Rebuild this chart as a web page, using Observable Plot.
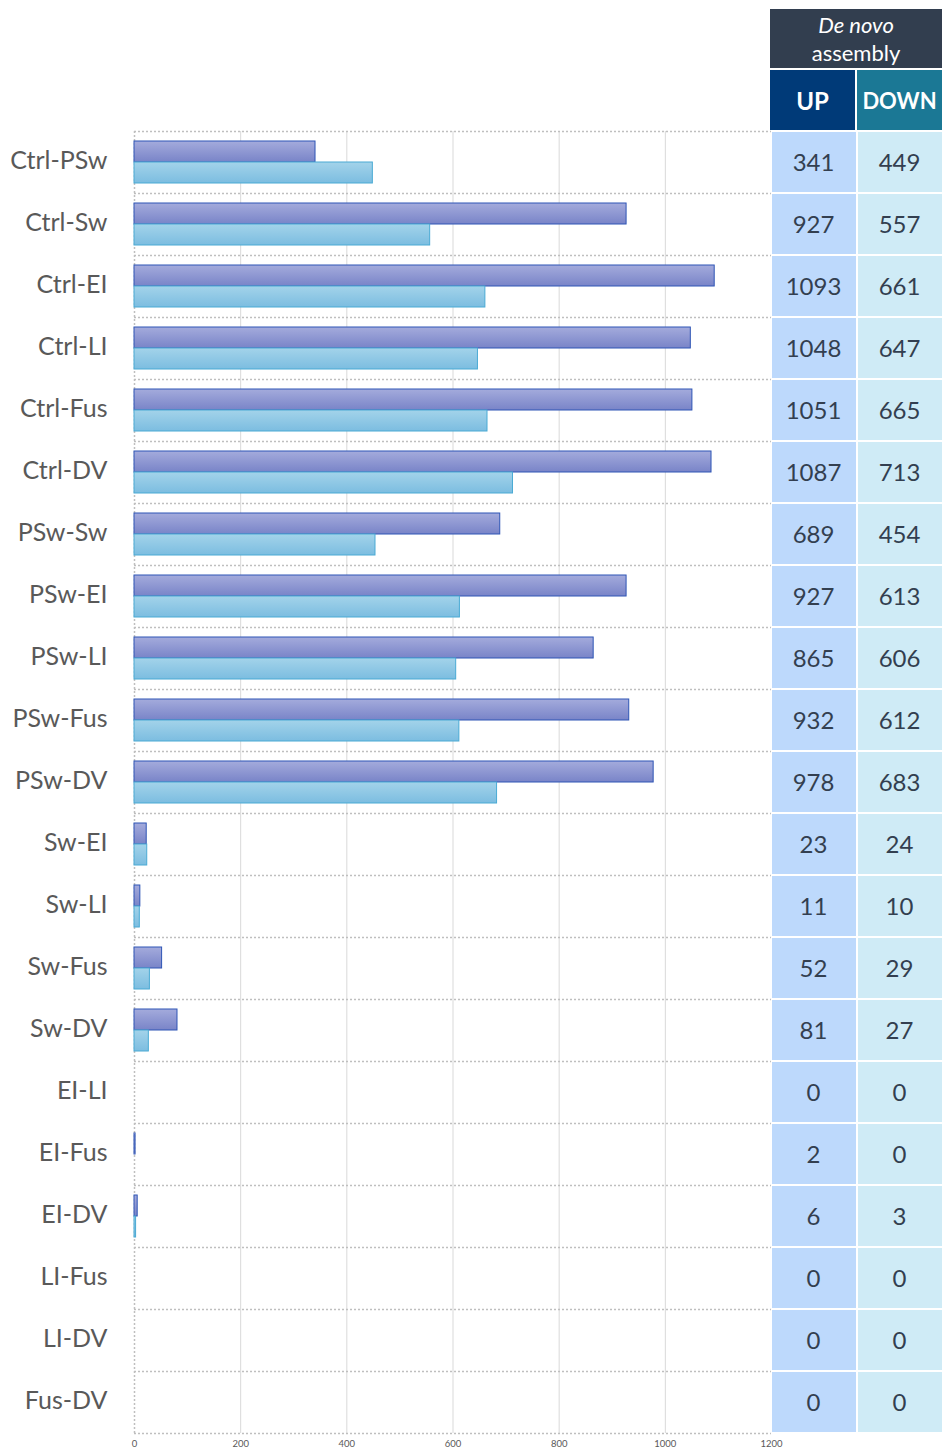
<!DOCTYPE html>
<html>
<head>
<meta charset="utf-8">
<script src="https://cdn.jsdelivr.net/npm/d3@7"></script>
<script src="https://cdn.jsdelivr.net/npm/@observablehq/plot@0.6"></script>
<style>
  body { margin: 0; background: #fff; font-family: Lato, "Open Sans", sans-serif; }
  #wrap { position: relative; width: 943px; height: 1450px; }
  #wrap > div { position: absolute; }
  .hdr { color: #fff; display: flex; align-items: center; justify-content: center; text-align: center; }
</style>
</head>
<body>
<div id="wrap">
  <div id="chart" style="left:0;top:0"></div>
  <div id="table" style="left:770px;top:0"></div>
  <div class="hdr" style="left:770px;top:9px;width:172px;height:59px;background:#323e4f;font-size:22px;line-height:28px;">
    <span><i>De novo</i><br>assembly</span>
  </div>
  <div class="hdr" style="left:770px;top:70px;width:85px;height:60px;background:#003a78;font-size:24px;font-weight:bold;">UP</div>
  <div class="hdr" style="left:857px;top:70px;width:85px;height:60px;background:#1b7895;font-size:22px;font-weight:bold;">DOWN</div>
</div>
<script>
const categories = ["Ctrl-PSw","Ctrl-Sw","Ctrl-EI","Ctrl-LI","Ctrl-Fus","Ctrl-DV","PSw-Sw","PSw-EI","PSw-LI","PSw-Fus","PSw-DV","Sw-EI","Sw-LI","Sw-Fus","Sw-DV","EI-LI","EI-Fus","EI-DV","LI-Fus","LI-DV","Fus-DV"];
const up   = [341,927,1093,1048,1051,1087,689,927,865,932,978,23,11,52,81,0,2,6,0,0,0];
const down = [449,557,661,647,665,713,454,613,606,612,683,24,10,29,27,0,0,3,0,0,0];
const xTicks = [0,200,400,600,800,1000,1200];
const columns = ["UP","DOWN"];

const upData = categories.map((c,i)=>({cat:c, value:up[i]})).filter(d=>d.value>0);
const downData = categories.map((c,i)=>({cat:c, value:down[i]})).filter(d=>d.value>0);
const tableData = categories.flatMap((c,i)=>[{cat:c,col:"UP",value:up[i]},{cat:c,col:"DOWN",value:down[i]}]);

const W = 943, H = 1450, mT = 131, mB = 17, mL = 134, mR = 172;
const step = (H - mT - mB) / categories.length;
const dotted = {stroke:"#bfbfbf", strokeDasharray:"2,2", strokeWidth:1.5};

const chart = Plot.plot({
  width: W, height: H,
  marginTop: mT, marginBottom: mB, marginLeft: mL, marginRight: mR,
  style: {fontFamily: "Lato, 'Open Sans', sans-serif", background: "#fff"},
  x: {domain:[0,1200]},
  y: {domain: categories, padding: 0},
  marks: [
    Plot.ruleX(xTicks.slice(1,-1), {stroke:"#d9d9d9", strokeWidth:1}),
    Plot.ruleY(categories, {y: d=>d, dy: -step/2, ...dotted}),
    Plot.ruleY([categories[categories.length-1]], {y: d=>d, dy: step/2, ...dotted}),
    Plot.ruleX([0], dotted),
    Plot.barX(upData, {x: "value", y: "cat", insetTop: 10, insetBottom: step-10-21, fill: "url(#gUp)", stroke: "#2e55b5", strokeWidth: 1}),
    Plot.barX(downData, {x: "value", y: "cat", insetTop: 31, insetBottom: step-31-21, fill: "url(#gDown)", stroke: "#4aaad4", strokeWidth: 1}),
    Plot.axisX({ticks: xTicks, tickSize: 0, tickPadding: 7, fontSize: 9.5, tickFormat: d=>String(d), color: "#595959", label: null}),
    Plot.axisY({tickSize: 0, tickPadding: 27, fontSize: 25, dy: -2, color: "#595959", label: null})
  ]
});
const svg = d3.select(chart);
const defs = svg.insert("defs", ":first-child");
const g1 = defs.append("linearGradient").attr("id","gUp").attr("x1",0).attr("y1",0).attr("x2",0).attr("y2",1);
g1.append("stop").attr("offset","0%").attr("stop-color","#a4abdc");
g1.append("stop").attr("offset","100%").attr("stop-color","#7984c8");
const g2 = defs.append("linearGradient").attr("id","gDown").attr("x1",0).attr("y1",0).attr("x2",0).attr("y2",1);
g2.append("stop").attr("offset","0%").attr("stop-color","#a3d3ea");
g2.append("stop").attr("offset","100%").attr("stop-color","#7cbde0");
document.getElementById("chart").appendChild(chart);

const table = Plot.plot({
  width: 173, height: H,
  marginTop: mT, marginBottom: mB, marginLeft: 0, marginRight: 0,
  style: {fontFamily: "Lato, 'Open Sans', sans-serif", background: "transparent"},
  x: {domain: columns, padding: 0, axis: null},
  y: {domain: categories, padding: 0, axis: null},
  color: {domain: columns, range: ["#bdd9fc", "#cfebf6"]},
  marks: [
    Plot.cell(tableData, {x: "col", y: "cat", fill: "col", inset: 1}),
    Plot.text(tableData, {x: "col", y: "cat", text: d=>String(d.value), fontSize: 24, fill: "#333f50", dx: -1, dy: 1})
  ]
});
document.getElementById("table").appendChild(table);
</script>
</body>
</html>
